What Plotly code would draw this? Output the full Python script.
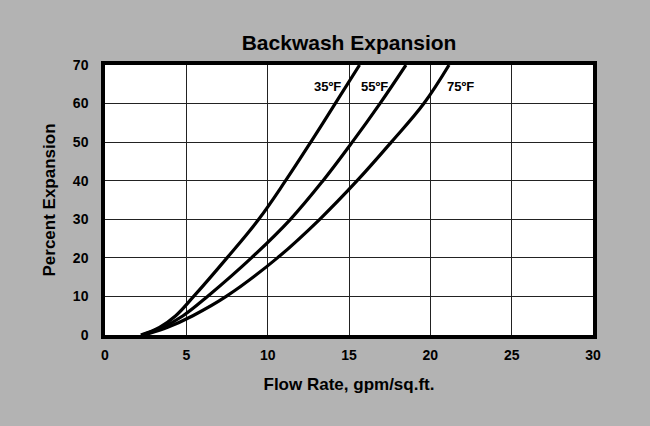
import plotly.graph_objects as go

# Percent expansion levels (y) and flow rates (x)
expansion = [0, 2, 5, 10, 20, 30, 40, 50, 60, 70]
flow_35F = [2.2, 3.35, 4.35, 5.45, 7.5, 9.45, 11.1, 12.65, 14.15, 15.65]
flow_55F = [2.3, 3.55, 4.8, 6.3, 9.0, 11.4, 13.4, 15.2, 16.9, 18.5]
flow_75F = [2.4, 3.85, 5.4, 7.45, 10.6, 13.2, 15.5, 17.6, 19.6, 21.15]

labels = ["35ºF", "55ºF", "75ºF"]
label_x = [14.65, 15.6, 20.9]
label_y = [64.5, 64.5, 64.5]
label_anchor = ["right", "left", "left"]

x_ticks = [0, 5, 10, 15, 20, 25, 30]
y_ticks = [0, 10, 20, 30, 40, 50, 60, 70]

FONT = "Liberation Sans Narrow, Arial Narrow, Liberation Sans, Arial"

fig = go.Figure()
for xs in (flow_35F, flow_55F, flow_75F):
    fig.add_trace(go.Scatter(x=xs, y=expansion, mode="lines",
                             line=dict(color="black", width=3.2, shape="spline", smoothing=1.1),
                             showlegend=False, hoverinfo="skip"))

for t, x, y, a in zip(labels, label_x, label_y, label_anchor):
    fig.add_annotation(x=x, y=y, text=f"<b>{t}</b>", showarrow=False, xanchor=a, yanchor="middle",
                       font=dict(family=FONT, size=13, color="black"))

fig.update_layout(
    width=650, height=426,
    margin=dict(l=105, r=57, t=65, b=91),
    paper_bgcolor="#b3b3b3", plot_bgcolor="white",
    title=dict(text="<b>Backwash Expansion</b>", x=0.537, xanchor="center", y=0.9, yanchor="middle",
               font=dict(family=FONT, size=21, color="black")),
    font=dict(family=FONT, color="black"),
)
fig.update_xaxes(range=[0, 30], tickvals=x_ticks, ticktext=[f"<b>{v}</b>" for v in x_ticks],
                 showgrid=True, gridcolor="#222", gridwidth=1.3, zeroline=False,
                 showline=True, linecolor="black", linewidth=3.5, mirror=True,
                 ticks="", ticklabelstandoff=4, tickfont=dict(family=FONT, size=14),
                 title=dict(text="<b>Flow Rate, gpm/sq.ft.</b>", font=dict(family=FONT, size=17), standoff=18))
fig.update_yaxes(range=[0, 70], tickvals=y_ticks, ticktext=[f"<b>{v}</b>" for v in y_ticks],
                 showgrid=True, gridcolor="#222", gridwidth=1.3, zeroline=False,
                 showline=True, linecolor="black", linewidth=3.5, mirror=True,
                 ticks="", ticklabelstandoff=10, tickfont=dict(family=FONT, size=14),
                 title=dict(text="<b>Percent Expansion</b>", font=dict(family=FONT, size=17), standoff=14))

fig.write_html("out.html", config={"displayModeBar": False},
               post_script="document.body.style.margin='0';document.body.style.background='#b3b3b3';")
